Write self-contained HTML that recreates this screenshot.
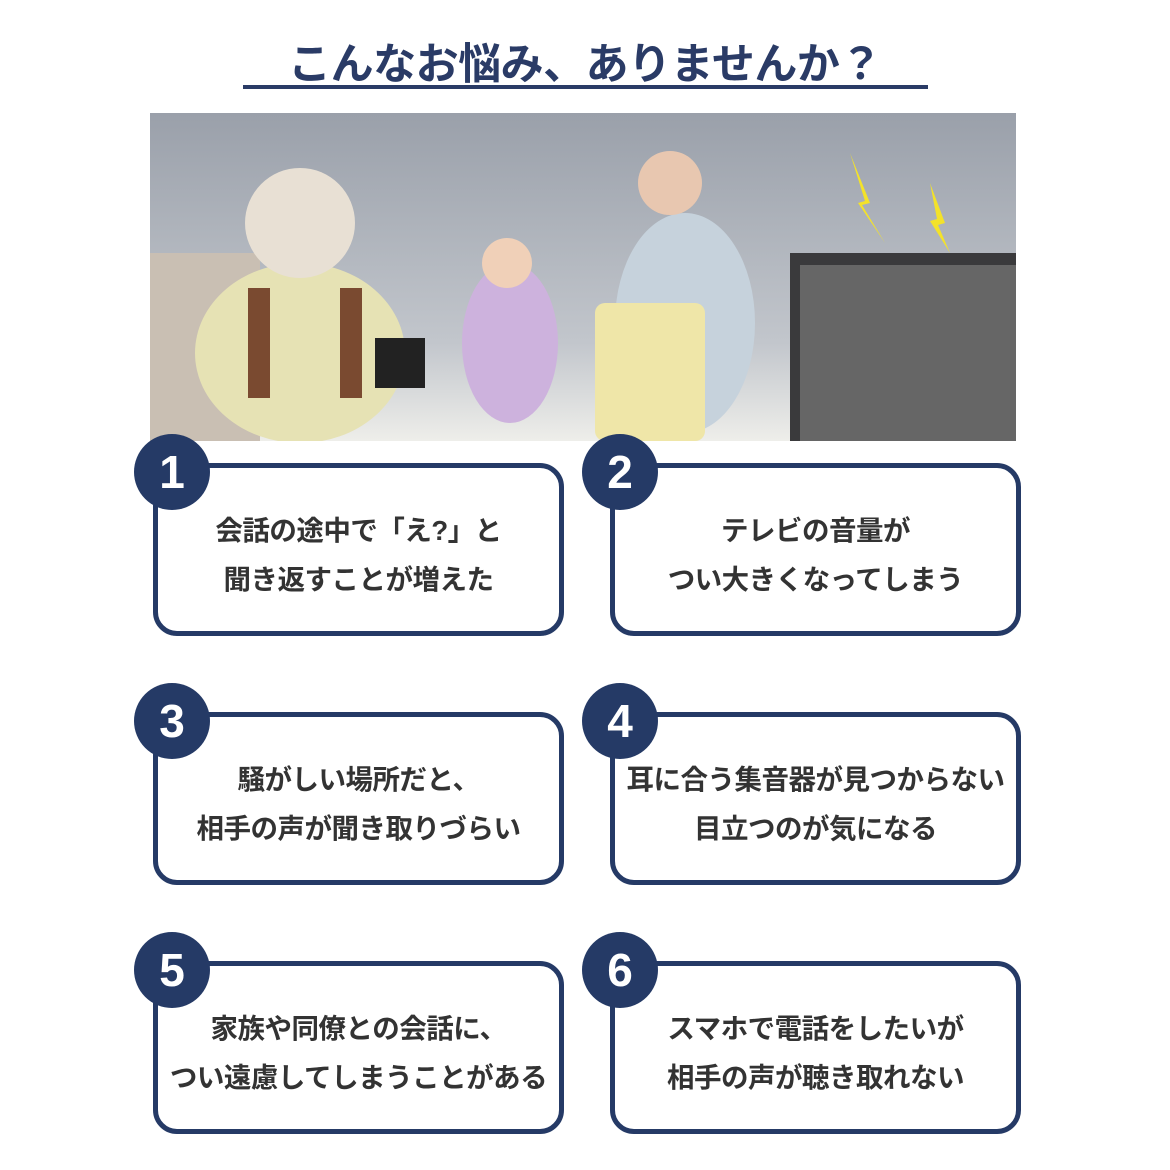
<!DOCTYPE html>
<html><head><meta charset="utf-8"><style>
body{margin:0;width:1170px;height:1170px;background:#fff;position:relative;overflow:hidden;font-family:"Liberation Sans","Noto Sans CJK JP",sans-serif}
.title{position:absolute;left:0;width:1170px;top:30px;text-align:center;font-size:43px;font-weight:bold;color:#2a3b66;letter-spacing:-0.5px}
.ul{position:absolute;left:243px;top:85px;width:685px;height:4px;background:#2a3b66}
.box{position:absolute;width:411px;height:173px;border:5px solid #253a66;border-radius:24px;background:#fff;display:flex;align-items:center;justify-content:center;text-align:center;font-size:27.5px;font-weight:bold;color:#333;line-height:49px;padding-top:10px;box-sizing:border-box;white-space:nowrap;letter-spacing:-0.5px}
.num{position:absolute;width:76px;height:76px;border-radius:50%;background:#253a66;color:#fff;font-size:46px;font-weight:bold;text-align:center;line-height:76px}
</style></head><body>
<div class="title">こんなお悩み、ありませんか？</div>
<div class="ul"></div>
<svg style="position:absolute;left:150px;top:113px" width="866" height="328">
<defs><linearGradient id="g" x1="0" y1="0" x2="0" y2="1"><stop offset="0" stop-color="#9aa0aa"/><stop offset="0.7" stop-color="#c2c6cc"/><stop offset="1" stop-color="#eeeeea"/></linearGradient></defs>
<rect width="866" height="328" fill="url(#g)"/>
<rect x="0" y="140" width="110" height="188" fill="#c9bfb3"/>
<ellipse cx="150" cy="240" rx="105" ry="90" fill="#e6e2b4"/>
<circle cx="150" cy="110" r="55" fill="#e8e0d4"/>
<rect x="98" y="175" width="22" height="110" fill="#7a4a30"/><rect x="190" y="175" width="22" height="110" fill="#7a4a30"/>
<rect x="225" y="225" width="50" height="50" fill="#222"/>
<ellipse cx="360" cy="230" rx="48" ry="80" fill="#cdb2dd"/>
<circle cx="357" cy="150" r="25" fill="#f0d0b8"/>
<ellipse cx="535" cy="210" rx="70" ry="110" fill="#c6d2dc"/>
<circle cx="520" cy="70" r="32" fill="#e8c7b0"/>
<rect x="445" y="190" width="110" height="138" rx="10" fill="#efe6a8"/>
<rect x="640" y="140" width="226" height="188" fill="#3a3a3c"/>
<rect x="650" y="152" width="216" height="176" fill="#666"/>
<polygon points="700,40 720,90 712,92 735,130 708,90 715,88" fill="#f3e22a"/>
<polygon points="780,70 795,110 788,112 800,140 780,108 787,106" fill="#f3e22a"/>
</svg>
<div class="box" style="left:153px;top:463px">会話の途中で「え?」と<br>聞き返すことが増えた</div>
<div class="box" style="left:610px;top:463px">テレビの音量が<br>つい大きくなってしまう</div>
<div class="box" style="left:153px;top:712px">騒がしい場所だと、<br>相手の声が聞き取りづらい</div>
<div class="box" style="left:610px;top:712px">耳に合う集音器が見つからない<br>目立つのが気になる</div>
<div class="box" style="left:153px;top:961px">家族や同僚との会話に、<br>つい遠慮してしまうことがある</div>
<div class="box" style="left:610px;top:961px">スマホで電話をしたいが<br>相手の声が聴き取れない</div>
<div class="num" style="left:134px;top:434px">1</div>
<div class="num" style="left:582px;top:434px">2</div>
<div class="num" style="left:134px;top:683px">3</div>
<div class="num" style="left:582px;top:683px">4</div>
<div class="num" style="left:134px;top:932px">5</div>
<div class="num" style="left:582px;top:932px">6</div>
</body></html>
